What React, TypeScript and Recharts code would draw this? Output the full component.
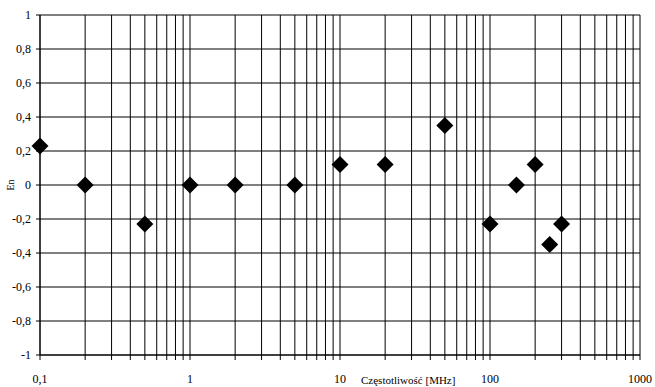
import React from 'react';
import { ScatterChart, Scatter, XAxis, YAxis, CartesianGrid, Label } from 'recharts';

const frequencies = [0.1, 0.2, 0.5, 1, 2, 5, 10, 20, 50, 100, 150, 200, 250, 300];
const enValues = [0.23, 0, -0.23, 0, 0, 0, 0.12, 0.12, 0.35, -0.23, 0, 0.12, -0.35, -0.23];

const xTicks = [
  0.1, 0.2, 0.3, 0.4, 0.5, 0.6, 0.7, 0.8, 0.9,
  1, 2, 3, 4, 5, 6, 7, 8, 9,
  10, 20, 30, 40, 50, 60, 70, 80, 90,
  100, 200, 300, 400, 500, 600, 700, 800, 900,
  1000,
];
const xLabelTicks = [0.1, 1, 10, 100, 1000];
const yTicks = [-1, -0.8, -0.6, -0.4, -0.2, 0, 0.2, 0.4, 0.6, 0.8, 1];

const data = frequencies.map((f, i) => ({ f, en: enValues[i] }));

const FONT = '"Liberation Serif", "DejaVu Serif", serif';

const Diamond = (props: any) => {
  const { cx, cy } = props;
  const r = 8.5;
  return (
    <polygon
      points={`${cx},${cy - r} ${cx + r},${cy} ${cx},${cy + r} ${cx - r},${cy}`}
      fill="#000"
    />
  );
};

const fmtX = (v: number) => {
  if (!xLabelTicks.some((t) => Math.abs(t - v) < 1e-9)) return '';
  return String(v).replace('.', ',');
};
const fmtY = (v: number) => String(Math.round(v * 10) / 10).replace('.', ',');

export default function App() {
  return (
    <div style={{ position: 'absolute', left: 0, top: 0, background: '#fff' }}>
      <ScatterChart
        width={655}
        height={387}
        margin={{ top: 15, right: 15, bottom: 0, left: 0 }}
      >
        <CartesianGrid stroke="#000" strokeWidth={1} horizontal vertical />
        <XAxis
          type="number"
          dataKey="f"
          scale="log"
          domain={[0.1, 1000]}
          ticks={xTicks}
          tickFormatter={fmtX}
          interval={0}
          height={32}
          tickSize={5}
          tickMargin={14}
          axisLine={{ stroke: '#000' }}
          tickLine={{ stroke: '#000' }}
          tick={{ fill: '#000', fontSize: 12, fontFamily: FONT }}
        >
          <Label
            content={(p: any) => {
              const vb = p.viewBox || {};
              return (
                <text
                  x={(vb.x ?? 40) + 321}
                  y={384}
                  fontSize={11}
                  fontFamily={FONT}
                  fill="#000"
                  textAnchor="start"
                >
                  Częstotliwość [MHz]
                </text>
              );
            }}
          />
        </XAxis>
        <YAxis
          type="number"
          dataKey="en"
          domain={[-1, 1]}
          ticks={yTicks}
          tickFormatter={fmtY}
          interval={0}
          width={40}
          tickSize={4}
          tickMargin={5}
          axisLine={{ stroke: '#000' }}
          tickLine={{ stroke: '#000' }}
          tick={{ fill: '#000', fontSize: 12, fontFamily: FONT }}
        >
          <Label
            content={() => (
              <text
                x={14}
                y={185}
                transform="rotate(-90 14 185)"
                fontSize={10}
                fontFamily={FONT}
                fill="#000"
                textAnchor="middle"
              >
                En
              </text>
            )}
          />
        </YAxis>
        <Scatter data={data} shape={<Diamond />} isAnimationActive={false} />
      </ScatterChart>
    </div>
  );
}
